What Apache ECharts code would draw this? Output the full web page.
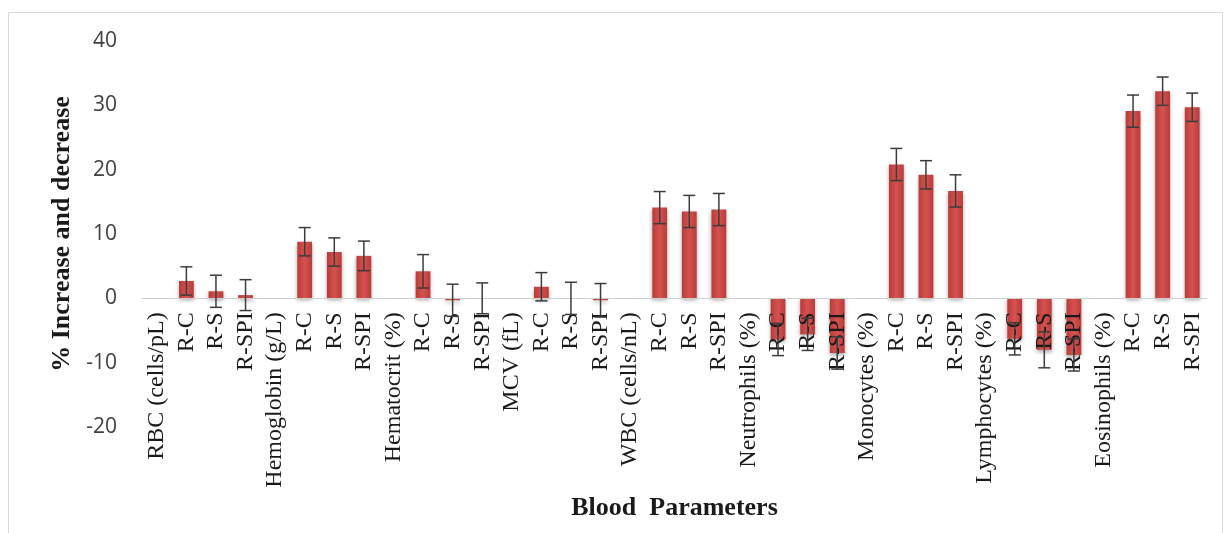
<!DOCTYPE html>
<html>
<head>
<meta charset="utf-8">
<script src="https://cdn.jsdelivr.net/npm/echarts@6/dist/echarts.min.js"></script>
<style>
  html, body { margin: 0; padding: 0; background: #fff; }
  #chart { width: 1232px; height: 533px; }
</style>
</head>
<body>
<div id="chart"></div>
<script>
// Blood parameters and the three treatment groups shown under each one
const parameters = ['RBC (cells/pL)', 'Hemoglobin (g/L)', 'Hematocrit (%)', 'MCV (fL)',
  'WBC (cells/nL)', 'Neutrophils (%)', 'Monocytes (%)', 'Lymphocytes (%)', 'Eosinophils (%)'];
const groups = ['R-C', 'R-S', 'R-SPI'];

// % change per parameter for each group
const changeRC   = [2.7, 8.8, 4.2, 1.8, 14.1, -6.4, 20.8, -6.3, 29.1];
const changeRS   = [1.1, 7.2, -0.3, 0.0, 13.5, -5.6, 19.2, -8.0, 32.2];
const changeRSPI = [0.5, 6.6, 0.0, -0.3, 13.8, -8.5, 16.7, -8.8, 29.7];

// error (±) per parameter for each group
const errRC   = [2.2, 2.2, 2.6, 2.2, 2.5, 2.5, 2.5, 2.5, 2.5];
const errRS   = [2.5, 2.2, 2.5, 2.5, 2.5, 2.5, 2.2, 2.8, 2.2];
const errRSPI = [2.4, 2.3, 2.4, 2.6, 2.5, 2.5, 2.5, 2.5, 2.2];

const yTicks = { min: -20, max: 40, interval: 10 };

// Flatten: parameter heading followed by its three groups
const categories = [];
const barValues = [];
const errorData = [];
const groupValues = [changeRC, changeRS, changeRSPI];
const groupErrors = [errRC, errRS, errRSPI];
parameters.forEach((p, i) => {
  categories.push(p);
  barValues.push(null);
  groups.forEach((g, k) => {
    const idx = categories.length;
    categories.push(g);
    const v = groupValues[k][i];
    const e = groupErrors[k][i];
    barValues.push(v);
    errorData.push([idx, v - e, v + e]);
  });
});

const grid = { left: 142, right: 25, top: 41, bottom: 106 };
const plotHeight = 533 - grid.top - grid.bottom;
// lift the category axis from the bottom edge up to the zero line
const zeroLift = plotHeight * (0 - yTicks.min) / (yTicks.max - yTicks.min);

const chart = echarts.init(document.getElementById('chart'));

chart.setOption({
  backgroundColor: '#ffffff',
  animation: false,
  graphic: [{
    type: 'rect',
    shape: { x: 8.5, y: 12.5, width: 1214, height: 530 },
    style: { fill: 'none', stroke: '#d9d9d9', lineWidth: 1 },
    silent: true
  }],
  grid: Object.assign({ outerBoundsMode: 'none', containLabel: false }, grid),
  xAxis: {
    type: 'category',
    data: categories,
    offset: -zeroLift,
    z: 4,
    name: 'Blood  Parameters',
    nameLocation: 'middle',
    nameGap: 182,
    nameTextStyle: { fontFamily: 'Liberation Serif', fontWeight: 'bold', fontSize: 26, color: '#1a1a1a' },
    axisLine: { onZero: false, lineStyle: { color: '#d0d0d0', width: 1 } },
    axisTick: { show: false },
    axisLabel: {
      interval: 0,
      rotate: 90,
      margin: 14,
      fontFamily: 'Liberation Serif',
      fontSize: 24,
      color: '#1a1a1a'
    }
  },
  yAxis: {
    type: 'value',
    min: yTicks.min,
    max: yTicks.max,
    interval: yTicks.interval,
    name: '% Increase and decrease',
    nameLocation: 'middle',
    nameGap: 66,
    nameTextStyle: { fontFamily: 'Liberation Serif', fontWeight: 'bold', fontSize: 26, color: '#1a1a1a' },
    axisLine: { show: false },
    axisTick: { show: false },
    splitLine: { show: false },
    axisLabel: { margin: 25, fontFamily: 'Open Sans', fontSize: 21, color: '#404040' }
  },
  series: [
    {
      type: 'bar',
      data: barValues,
      barWidth: '50%',
      itemStyle: {
        color: new echarts.graphic.LinearGradient(0, 0, 1, 0, [
          { offset: 0, color: '#bb3b38' },
          { offset: 0.5, color: '#d4524f' },
          { offset: 1, color: '#bb3b38' }
        ]),
        shadowColor: 'rgba(0,0,0,0.35)',
        shadowBlur: 4,
        shadowOffsetY: 2
      },
      z: 3
    },
    {
      type: 'custom',
      data: errorData,
      z: 5,
      renderItem: function (params, api) {
        const x = api.value(0);
        const lo = api.coord([x, api.value(1)]);
        const hi = api.coord([x, api.value(2)]);
        const half = 6;
        const style = { stroke: '#3c3c3c', lineWidth: 1.5 };
        return {
          type: 'group',
          children: [
            { type: 'line', shape: { x1: hi[0], y1: hi[1], x2: lo[0], y2: lo[1] }, style: style },
            { type: 'line', shape: { x1: hi[0] - half, y1: hi[1], x2: hi[0] + half, y2: hi[1] }, style: style },
            { type: 'line', shape: { x1: lo[0] - half, y1: lo[1], x2: lo[0] + half, y2: lo[1] }, style: style }
          ]
        };
      }
    }
  ]
});
</script>
</body>
</html>
